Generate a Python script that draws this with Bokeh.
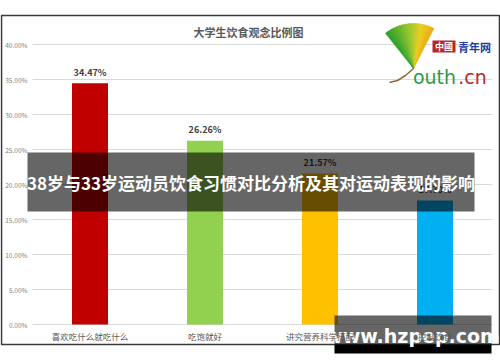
from bokeh.plotting import figure
from bokeh.models import Range1d, LinearAxis, FixedTicker, PrintfTickFormatter
from bokeh.core.properties import value
from bokeh.embed import file_html
from bokeh.resources import INLINE

# ---- data ----
categories = ["喜欢吃什么就吃什么", "吃饱就好", "讲究营养科学搭配", "控制饮食"]
percentages = [34.47, 26.26, 21.57, 17.70]
bar_colors = ["#C00000", "#92D050", "#FFC000", "#00B0F0"]
y_ticks = [0, 5, 10, 15, 20, 25, 30, 35, 40]
chart_title = "大学生饮食观念比例图"
overlay_title = "38岁与33岁运动员饮食习惯对比分析及其对运动表现的影响"
watermark = "www.hzpep.com"

# ---- layout (pixels) ----
W, H = 500, 362
PL, PR, PT, PB = 32, 492, 44, 324
YMAX = 40.0
XU = (PR - PL) / len(categories)
YU = (PB - PT) / YMAX

def dx(xp):
    return -0.5 + (xp - PL) / XU

def dy(yp):
    return (PB - yp) / YU

CJK = "Noto Sans CJK SC"

p = figure(width=W, height=H, x_range=Range1d(dx(0), dx(W)), y_range=Range1d(dy(H), dy(0)),
           output_backend="svg", toolbar_location=None, min_border=0,
           x_axis_type=None, y_axis_type=None)
p.min_border_left = p.min_border_right = p.min_border_top = p.min_border_bottom = 0
p.outline_line_color = None
p.background_fill_color = "white"
p.border_fill_color = "white"

# outer chart frame
p.quad(left=dx(1), right=dx(499), top=dy(15), bottom=dy(344),
       fill_color=None, line_color="#3a3a3a", line_width=1.6)

# gridlines
p.segment(x0=dx(PL), x1=dx(PR), y0=y_ticks, y1=y_ticks, line_color="#d9d9d9", line_width=1)

# bars
xs = list(range(len(categories)))
p.vbar(x=xs, top=percentages, bottom=0, width=36 / XU, fill_color=bar_colors, line_color=None)

# value labels
p.text(x=xs, y=percentages, text=[f"{v:.2f}%" for v in percentages], y_offset=-11,
       text_font=value(CJK), text_font_style="bold", text_font_size="9px",
       text_color="#404040", text_align="center", text_baseline="middle")

# chart title
p.text(x=[dx(248)], y=[dy(31)], text=[chart_title], text_font=value(CJK), text_font_style="bold",
       text_font_size="11px", text_color="#595959", text_align="center", text_baseline="middle")

# axes
yaxis = LinearAxis(fixed_location=dx(PL), ticker=FixedTicker(ticks=y_ticks),
                   formatter=PrintfTickFormatter(format="%.2f%%"))
yaxis.axis_line_color = None
yaxis.major_tick_line_color = None
yaxis.minor_tick_line_color = None
yaxis.major_tick_out = 0
yaxis.major_tick_in = 0
yaxis.minor_tick_out = 0
yaxis.minor_tick_in = 0
yaxis.major_label_text_font = CJK
yaxis.major_label_text_font_size = "6.5px"
yaxis.major_label_text_color = "#7f7f7f"
yaxis.major_label_standoff = 5
p.add_layout(yaxis, "left")

xaxis = LinearAxis(fixed_location=0, ticker=FixedTicker(ticks=xs),
                   major_label_overrides={i: c for i, c in zip(xs, categories)})
xaxis.axis_line_color = None
xaxis.major_tick_line_color = None
xaxis.minor_tick_line_color = None
xaxis.major_tick_out = 0
xaxis.major_tick_in = 0
xaxis.minor_tick_out = 0
xaxis.minor_tick_in = 0
xaxis.major_label_text_font = CJK
xaxis.major_label_text_font_size = "8.5px"
xaxis.major_label_text_color = "#595959"
xaxis.major_label_standoff = 5
p.add_layout(xaxis, "below")

# logo (ginkgo leaf with a green-to-yellow gradient + text)
leaf_stops = [(63, 0xf0, 0xa8, 0x18), (80, 0xe8, 0xd0, 0x20), (96, 0x9c, 0xc8, 0x30), (128, 0x2c, 0xa0, 0x2c)]
steps = 16
for k in range(steps):
    a0 = leaf_stops[0][0] + (leaf_stops[-1][0] - leaf_stops[0][0]) * k / steps
    a1 = leaf_stops[0][0] + (leaf_stops[-1][0] - leaf_stops[0][0]) * (k + 1) / steps
    am = 0.5 * (a0 + a1)
    for j in range(len(leaf_stops) - 1):
        s0, s1 = leaf_stops[j], leaf_stops[j + 1]
        if s0[0] <= am <= s1[0]:
            t = (am - s0[0]) / (s1[0] - s0[0])
            rgb = tuple(int(s0[i] + (s1[i] - s0[i]) * t) for i in (1, 2, 3))
            break
    c = "#%02x%02x%02x" % rgb
    p.wedge(x=[dx(413)], y=[dy(68)], radius=45, radius_units="screen",
            start_angle=a0, end_angle=a1 + 0.6, start_angle_units="deg", end_angle_units="deg",
            fill_color=c, line_color=c, line_width=0.6)
p.line(x=[dx(413), dx(405), dx(397), dx(389)], y=[dy(68), dy(75), dy(80), dy(82)],
       line_color="#8b6b3f", line_width=1.5)
p.quad(left=dx(432), right=dx(455), top=dy(40), bottom=dy(52), fill_color="#b8262b", line_color=None)
p.text(x=[dx(443.5)], y=[dy(46)], text=["中國"], text_font=value(CJK), text_font_style="bold",
       text_font_size="9px", text_color="white", text_align="center", text_baseline="middle")
p.text(x=[dx(474)], y=[dy(46)], text=["青年网"], text_font=value(CJK), text_font_style="bold",
       text_font_size="11px", text_color="#23409a", text_align="center", text_baseline="middle")
p.text(x=[dx(434)], y=[dy(76)], text=["outh"], text_font=value("DejaVu Sans"),
       text_font_size="19px", text_color="#2e9b3e", text_align="center", text_baseline="middle")
p.text(x=[dx(472)], y=[dy(76)], text=[".cn"], text_font=value("DejaVu Sans"),
       text_font_size="19px", text_color="#b8262b", text_align="center", text_baseline="middle")

# overlay band with headline
p.quad(left=dx(27), right=dx(474), top=dy(152), bottom=dy(211), fill_color="black",
       fill_alpha=0.6, line_color=None)
p.text(x=[dx(250.5)], y=[dy(182)], text=[overlay_title], text_font=value(CJK), text_font_style="bold",
       text_font_size="17px", text_color="white", text_align="center", text_baseline="middle")

# watermark
p.quad(left=dx(334), right=dx(491), top=dy(315), bottom=dy(344), fill_color="black",
       fill_alpha=0.6, line_color=None)
p.quad(left=dx(334), right=dx(491), top=dy(344), bottom=dy(353), fill_color="black",
       line_color=None)
p.text(x=[dx(412)], y=[dy(335)], text=[watermark], text_font=value("DejaVu Sans"), text_font_style="bold",
       text_font_size="19px", text_color="white", text_align="center", text_baseline="middle")

open("out.html", "w").write(file_html(p, INLINE))
